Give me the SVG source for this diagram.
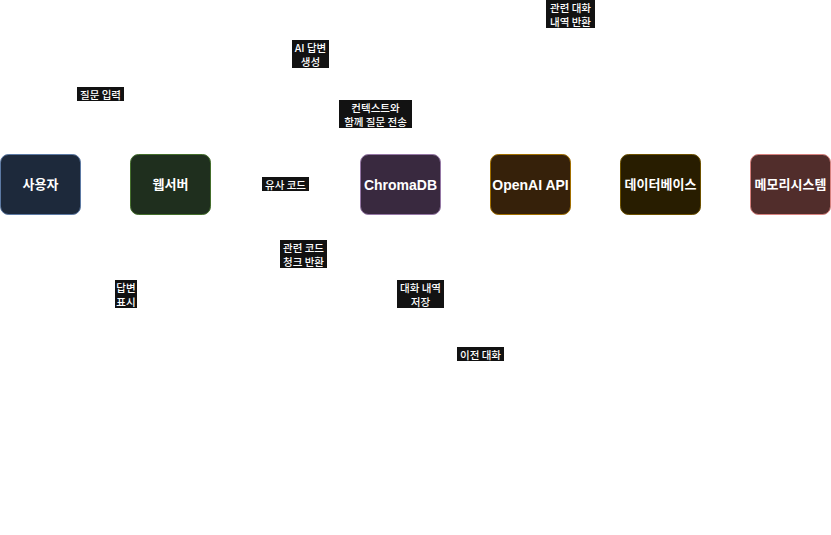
<svg xmlns="http://www.w3.org/2000/svg" width="831" height="535" viewBox="0 0 831 535">
<defs>
<marker id="arr" viewBox="0 0 10 10" refX="9" refY="5" markerWidth="8" markerHeight="8" orient="auto"><path d="M0,1 L9,5 L0,9 z" fill="#ffffff"/></marker>
<style>
.node{stroke-width:1}
.nt{font-family:"Liberation Sans","Noto Sans CJK KR",sans-serif;font-size:13px;font-weight:bold;fill:#ffffff;text-anchor:middle;dominant-baseline:central}
.nl{font-size:14px}
.lb{fill:#121212}
.lt{font-family:"Noto Sans CJK KR","Liberation Sans",sans-serif;font-size:10.5px;font-weight:500;fill:#ffffff;text-anchor:middle;dominant-baseline:central}
.edge{fill:none;stroke:#ffffff;stroke-width:1;marker-end:url(#arr)}
</style>
</defs>
<rect width="831" height="535" fill="#ffffff"/>
<g id="connectors">
<path class="edge" d="M40,154 V94 H170 V154"/>
<path class="edge" d="M170,214 V294 H40 V214"/>
<path class="edge" d="M210,184 H360"/>
<path class="edge" d="M400,214 V254 H200 V214"/>
<path class="edge" d="M180,154 V114 H530 V154"/>
<path class="edge" d="M530,154 V54 H160 V154"/>
<path class="edge" d="M190,214 V294 H790 V214"/>
<path class="edge" d="M790,154 V14 H150 V154"/>
<path class="edge" d="M660,214 V354 H175 V214"/>
</g>
<g id="n-user"><rect class="node" x="0.5" y="154.5" width="80" height="60" rx="8" fill="#1d293b" stroke="#5c79a3"/><text class="nt" x="40.5" y="184.5">사용자</text></g>
<g id="n-web"><rect class="node" x="130.5" y="154.5" width="80" height="60" rx="8" fill="#1f2f1e" stroke="#446e2c"/><text class="nt" x="170.5" y="184.5">웹서버</text></g>
<g id="n-chroma"><rect class="node" x="360.5" y="154.5" width="80" height="60" rx="8" fill="#39293f" stroke="#9577a5"/><text class="nt nl" x="400.5" y="184.5">ChromaDB</text></g>
<g id="n-openai"><rect class="node" x="490.5" y="154.5" width="80" height="60" rx="8" fill="#36210a" stroke="#a26f00"/><text class="nt nl" x="530.5" y="184.5">OpenAI API</text></g>
<g id="n-db"><rect class="node" x="620.5" y="154.5" width="80" height="60" rx="8" fill="#281d00" stroke="#6d5100"/><text class="nt" x="660.5" y="184.5">데이터베이스</text></g>
<g id="n-mem"><rect class="node" x="750.5" y="154.5" width="80" height="60" rx="8" fill="#512d2b" stroke="#d7817e"/><text class="nt" x="790.5" y="184.5">메모리시스템</text></g>
<g id="labels">
<rect class="lb" x="546" y="0" width="49" height="28"/><text class="lt" x="570.5" y="7">관련 대화</text><text class="lt" x="570.5" y="21">내역 반환</text>
<rect class="lb" x="292" y="40" width="37" height="28"/><text class="lt" x="310.5" y="47">AI 답변</text><text class="lt" x="310.5" y="61">생성</text>
<rect class="lb" x="77" y="87" width="47" height="14"/><text class="lt" x="100.5" y="94">질문 입력</text>
<rect class="lb" x="339" y="100" width="73" height="28"/><text class="lt" x="375.5" y="107">컨텍스트와</text><text class="lt" x="375.5" y="121">함께 질문 전송</text>
<rect class="lb" x="262" y="177" width="47" height="14"/><text class="lt" x="285.5" y="184">유사 코드</text>
<rect class="lb" x="280" y="240" width="47" height="28"/><text class="lt" x="303.5" y="247">관련 코드</text><text class="lt" x="303.5" y="261">청크 반환</text>
<rect class="lb" x="115" y="280" width="22" height="28"/><text class="lt" x="126" y="287">답변</text><text class="lt" x="126" y="301">표시</text>
<rect class="lb" x="397" y="280" width="47" height="28"/><text class="lt" x="420.5" y="287">대화 내역</text><text class="lt" x="420.5" y="301">저장</text>
<rect class="lb" x="457" y="347" width="47" height="14"/><text class="lt" x="480.5" y="354">이전 대화</text>
</g>
</svg>
